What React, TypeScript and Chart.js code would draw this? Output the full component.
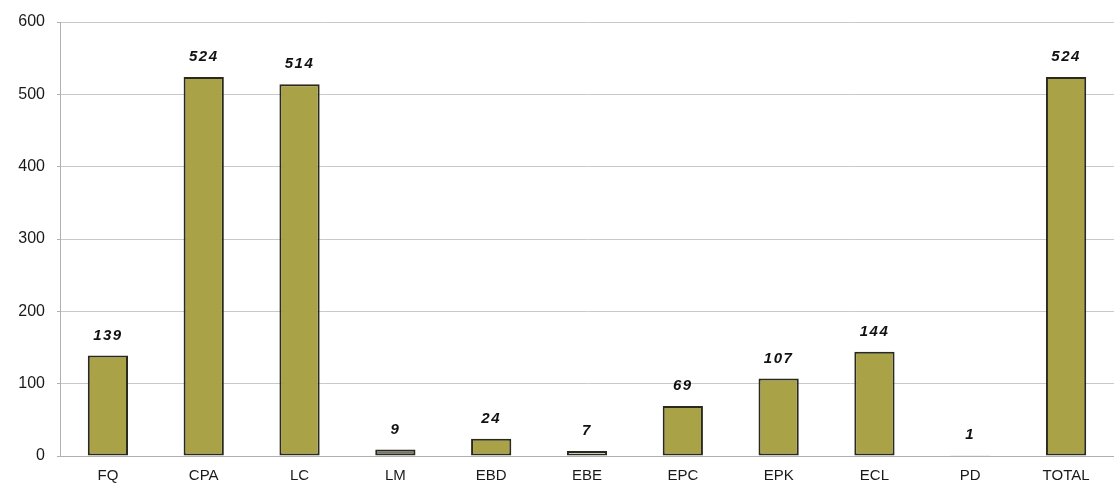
import React, { useEffect, useRef } from "react";
import { Chart, registerables } from "chart.js";

Chart.register(...registerables);

const categories = ["FQ", "CPA", "LC", "LM", "EBD", "EBE", "EPC", "EPK", "ECL", "PD", "TOTAL"];
const counts = [139, 524, 514, 9, 24, 7, 69, 107, 144, 1, 524];
const fillColors = [
  "#a9a247", "#a9a247", "#a9a247", "#76746c", "#a9a247", "#ffffff",
  "#a9a247", "#a9a247", "#a9a247", "#a9a247", "#a9a247",
];
const yTicks = [0, 100, 200, 300, 400, 500, 600];

const FONT = "Arial, 'Liberation Sans', sans-serif";

// Writes each bar's value in bold italic above it
const valueLabels = {
  id: "valueLabels",
  afterDatasetsDraw(chart: any) {
    const { ctx } = chart;
    const meta = chart.getDatasetMeta(0);
    ctx.save();
    (ctx as any).letterSpacing = "1.5px";
    ctx.font = `italic bold 15px ${FONT}`;
    ctx.fillStyle = "#111";
    ctx.textAlign = "center";
    ctx.textBaseline = "middle";
    meta.data.forEach((bar: any, i: number) => {
      ctx.fillText(String(counts[i]), bar.x, bar.y - 20);
    });
    ctx.restore();
  },
};

export default function App() {
  const ref = useRef<HTMLCanvasElement | null>(null);

  useEffect(() => {
    document.body.style.margin = "0";
    const canvas = ref.current;
    if (!canvas) return;
    const chart = new Chart(canvas, {
      type: "bar",
      data: {
        labels: categories,
        datasets: [
          {
            data: counts,
            backgroundColor: fillColors,
            borderColor: "#2a291e",
            borderWidth: 2,
            borderSkipped: false,
            barPercentage: 0.42,
            categoryPercentage: 1,
          },
        ],
      },
      options: {
        responsive: false,
        animation: false,
        layout: { padding: { top: 22, right: 0, left: 0, bottom: 0 } },
        plugins: {
          legend: { display: false },
          tooltip: { enabled: false },
        },
        scales: {
          x: {
            grid: { display: false, drawTicks: false },
            border: { color: "#b0b0b0" },
            ticks: {
              color: "#1a1a1a",
              font: { family: FONT, size: 15 },
              padding: 11,
              autoSkip: false,
              maxRotation: 0,
            },
            afterFit(scale: any) {
              scale.height = 38;
            },
          },
          y: {
            min: 0,
            max: 600,
            afterBuildTicks(scale: any) {
              scale.ticks = yTicks.map((v) => ({ value: v }));
            },
            grid: { color: "#c9c9c9", lineWidth: 1, drawTicks: true, tickLength: 3, tickColor: "#b0b0b0" },
            border: { color: "#b0b0b0" },
            ticks: {
              color: "#1a1a1a",
              font: { family: FONT, size: 16 },
              padding: 12,
            },
            afterFit(scale: any) {
              scale.width = 60;
            },
          },
        },
      },
      plugins: [valueLabels],
    });
    return () => chart.destroy();
  }, []);

  return (
    <div style={{ width: 1114, height: 494, background: "#ffffff" }}>
      <canvas ref={ref} width={1114} height={494} />
    </div>
  );
}
